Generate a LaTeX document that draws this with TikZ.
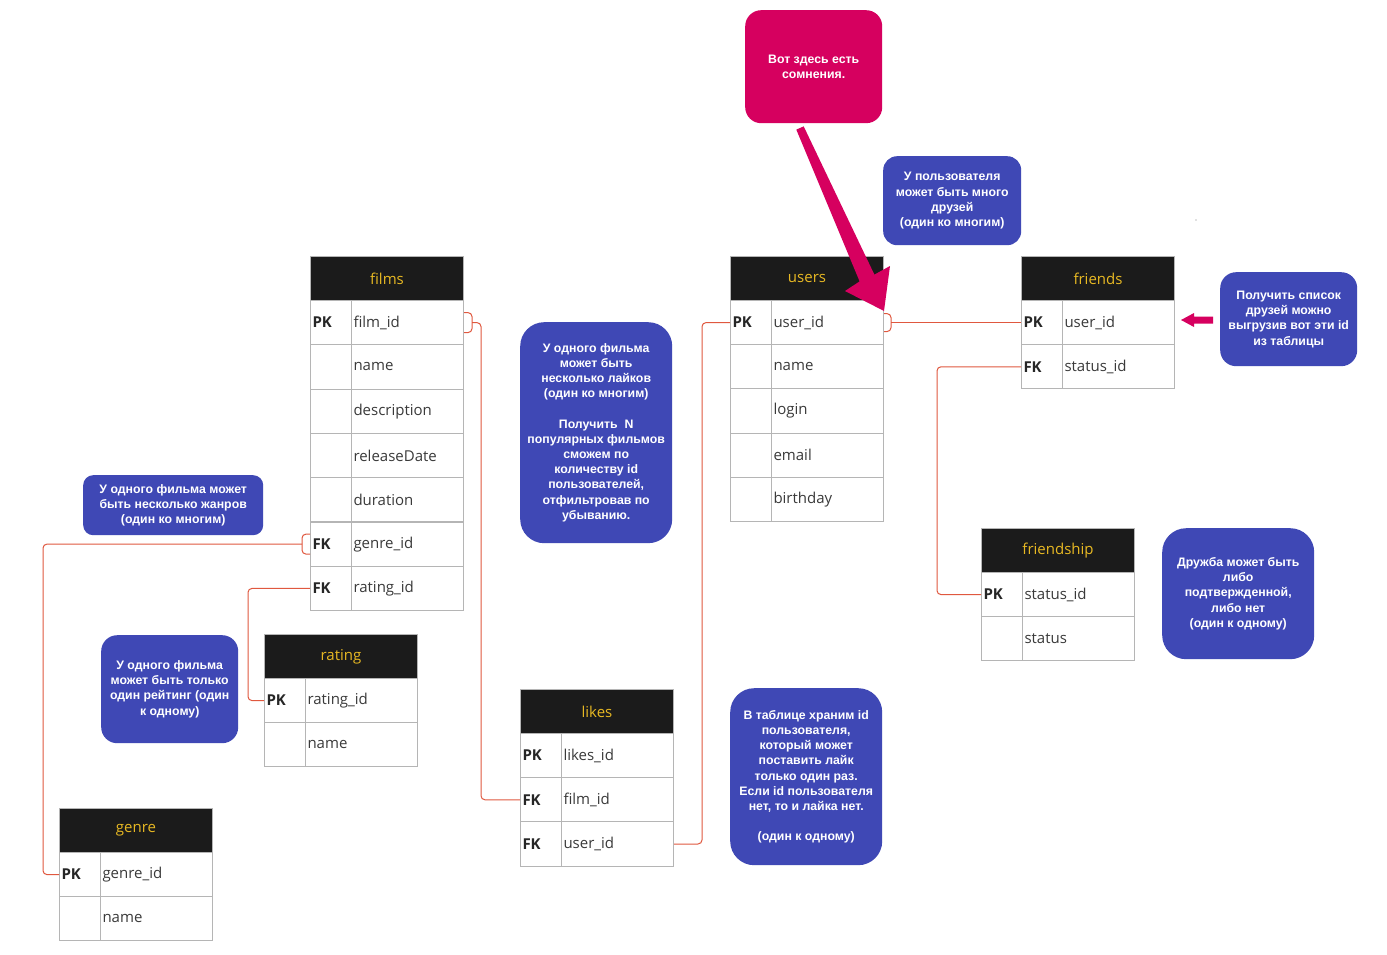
\documentclass[tikz,border=0pt]{standalone}
\usepackage{fontspec}
\setmainfont{Open Sans}
\newfontfamily\notefont{Liberation Sans}
\usetikzlibrary{calc}
\definecolor{hdrbg}{HTML}{1B1B1B}
\definecolor{hdrtx}{HTML}{E8B923}
\definecolor{cellln}{HTML}{B5B5B5}
\definecolor{celltx}{HTML}{3A3A3A}
\definecolor{notebg}{HTML}{3F48B5}
\definecolor{pinkbg}{HTML}{D6005F}
\definecolor{connc}{HTML}{E0583F}
\tikzset{
  hdr/.style={draw=cellln, line width=1pt, fill=hdrbg, text=hdrtx, minimum width=153pt, minimum height=44pt, inner sep=0pt, anchor=north west, font=\fontsize{15}{18}\selectfont},
  keycell/.style={draw=cellln, line width=1pt, fill=white, text=black!85, minimum height=44.2pt, text width=37pt, inner xsep=2pt, inner ysep=0pt, align=left, anchor=north west, font=\bfseries\fontsize{15}{18}\selectfont},
  fieldcell/.style={draw=cellln, line width=1pt, fill=white, text=celltx, minimum height=44.2pt, text width=108pt, inner xsep=2pt, inner ysep=0pt, align=left, anchor=north west, font=\fontsize{15}{18}\selectfont},
  note/.style={fill=notebg, text=white, align=center, anchor=north west, inner sep=0pt, font=\notefont\bfseries\fontsize{12.3}{15.2}\selectfont},
  conn/.style={draw=connc, line width=1pt, rounded corners=4pt}
}
\newcommand{\trow}[5]{\node[keycell] (#1k) at (#2,#3) {#4}; \node[fieldcell] (#1) at (#2+41,#3) {#5};}
\begin{document}
\begin{tikzpicture}[x=1pt,y=-1pt]
\useasboundingbox (0,0) rectangle (1387,955);
\fill[white] (0,0) rectangle (1387,955);

% films
\node[hdr] (films) at (310,256) {films};
\trow{f1}{310}{300}{PK}{film\_id}
\trow{f2}{310}{344.3}{}{name}
\trow{f3}{310}{388.6}{}{description}
\trow{f4}{310}{432.9}{}{releaseDate}
\trow{f5}{310}{477.2}{}{duration}
\trow{f6}{310}{521.5}{FK}{genre\_id}
\trow{f7}{310}{565.8}{FK}{rating\_id}

% users
\node[hdr] (users) at (730,256) {users};
\trow{u1}{730}{300}{PK}{user\_id}
\trow{u2}{730}{344.2}{}{name}
\trow{u3}{730}{388.4}{}{login}
\trow{u4}{730}{432.6}{}{email}
\trow{u5}{730}{476.8}{}{birthday}

% friends
\node[hdr] (friends) at (1021,256) {friends};
\trow{fr1}{1021}{300}{PK}{user\_id}
\trow{fr2}{1021}{344.2}{FK}{status\_id}

% friendship
\node[hdr] (fship) at (981,528) {friendship};
\trow{fs1}{981}{572}{PK}{status\_id}
\trow{fs2}{981}{616.2}{}{status}

% rating
\node[hdr] (rating) at (264,634) {rating};
\trow{r1}{264}{678}{PK}{rating\_id}
\trow{r2}{264}{722.2}{}{name}

% likes
\node[hdr] (likes) at (520,689) {likes};
\trow{l1}{520}{733}{PK}{likes\_id}
\trow{l2}{520}{777.2}{FK}{film\_id}
\trow{l3}{520}{821.4}{FK}{user\_id}

% genre
\node[hdr] (genre) at (59,808) {genre};
\trow{g1}{59}{852}{PK}{genre\_id}
\trow{g2}{59}{896.2}{}{name}

% connectors
\draw[conn] ($(f1.east)+(0,-10)$) -- ++(8,0) -- ++(0,20) -- ++(-8,0);
\draw[conn] ($(f1.east)+(8,0)$) -- ++(9,0) |- (l2k.west);
\draw[conn] (l3.east) -- ++(28,0) |- (u1k.west);
\draw[conn] ($(u1.east)+(0,-9)$) -- ++(7,0) -- ++(0,18) -- ++(-7,0);
\draw[conn] ($(u1.east)+(7,0)$) -- (fr1k.west);
\draw[conn] (fr2k.west) -- ++(-84,0) |- (fs1k.west);
\draw[conn] ($(f6k.west)+(0,-10)$) -- ++(-8,0) -- ++(0,20) -- ++(8,0);
\draw[conn] ($(f6k.west)+(-8,0)$) -- ++(-259,0) |- (g1k.west);
\draw[conn] (f7k.west) -- ++(-62,0) |- (r1k.west);

% notes
\node[note, rounded corners=10pt, minimum width=180pt, minimum height=60pt] (n1) at (83,475)
  {У одного фильма может\\быть несколько жанров\\(один ко многим)};
\node[note, rounded corners=24pt, minimum width=152pt, minimum height=221pt] (n2) at (520,322)
  {У одного фильма\\может быть\\несколько лайков\\(один ко многим)\\[15pt]Получить~~N\\популярных фильмов\\сможем по\\количеству id\\пользователей,\\отфильтровав по\\убыванию.};
\node[note, rounded corners=16pt, minimum width=137pt, minimum height=108pt] (n3) at (101,635)
  {У одного фильма\\может быть только\\один рейтинг (один\\к одному)};
\node[note, rounded corners=24pt, minimum width=152pt, minimum height=177pt] (n4) at (730,688)
  {В таблице храним id\\пользователя,\\который может\\поставить лайк\\только один раз.\\Если id пользователя\\нет, то и лайка нет.\\[15pt](один к одному)};
\node[note, rounded corners=14pt, minimum width=138pt, minimum height=89pt] (n5) at (883,156)
  {У пользователя\\может быть много\\друзей\\(один ко многим)};
\node[note, rounded corners=16pt, minimum width=137pt, minimum height=94pt] (n6) at (1220,272)
  {Получить список\\друзей можно\\выгрузив вот эти id\\из таблицы};
\node[note, rounded corners=24pt, minimum width=152pt, minimum height=131pt] (n7) at (1162,528)
  {Дружба может быть\\либо\\подтвержденной,\\либо нет\\(один к одному)};
\node[note, fill=pinkbg, rounded corners=16pt, minimum width=137pt, minimum height=113pt] (doubt) at (745,10)
  {Вот здесь есть\\сомнения.};

% pink arrows
\fill[pinkbg] (796.3,129.6) -- (803.7,126.4) -- (874.4,274.6) -- (890,266) -- (884,311) -- (845,291) -- (859.6,281.4) -- cycle;
\fill[pinkbg] (1181,320) -- (1194,313) -- (1194,316.5) -- (1213,316.5) -- (1213,323.5) -- (1194,323.5) -- (1194,327) -- cycle;
\fill[gray] (1196,220) circle (0.7);
\end{tikzpicture}
\end{document}
